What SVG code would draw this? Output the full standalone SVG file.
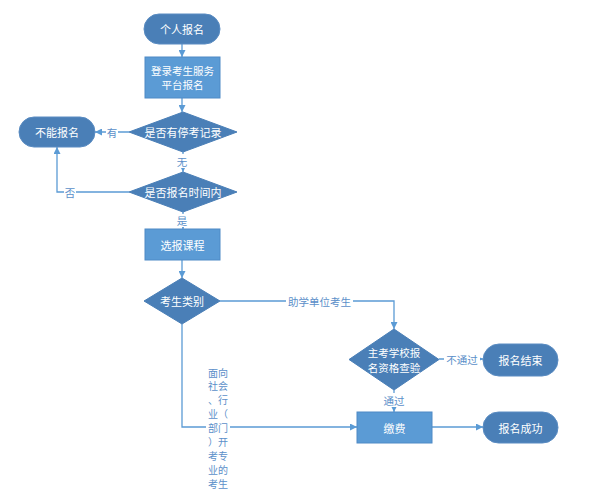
<svg xmlns="http://www.w3.org/2000/svg" width="607" height="498" viewBox="0 0 607 498">
<style>
.term{fill:#4a7fb7;stroke:#5a8cc2;stroke-width:1}
.proc{fill:#5b9bd5;stroke:#4f8ac6;stroke-width:1}
.dec{fill:#4a7fb7;stroke:#4a7fb7;stroke-width:1}
.nt{font-family:"Noto Sans CJK SC","Liberation Sans",sans-serif;font-size:11px;fill:#ffffff;text-anchor:middle;dominant-baseline:central}
.sm{font-size:10.5px}
.ln{fill:none;stroke:#5b9bd5;stroke-width:1.3}
.lb{font-family:"Noto Sans CJK SC","Liberation Sans",sans-serif;font-size:10.5px;fill:#5b8fc9;text-anchor:middle;dominant-baseline:central}
.vl{font-size:10px}
.bg{fill:#ffffff}
</style>
<defs>
<marker id="ah" viewBox="0 0 10 10" refX="10" refY="5" markerWidth="7" markerHeight="7" markerUnits="userSpaceOnUse" orient="auto">
<path d="M0,0 L10,5 L0,10 z" fill="#5b9bd5"/>
</marker>
</defs>
<g id="connectors">
<path class="ln" d="M182,44 V57" marker-end="url(#ah)"/>
<path class="ln" d="M182,98 V112" marker-end="url(#ah)"/>
<path class="ln" d="M129,132 H95" marker-end="url(#ah)"/>
<path class="ln" d="M183,152 V172" marker-end="url(#ah)"/>
<path class="ln" d="M129,192 H57 V147" marker-end="url(#ah)"/>
<path class="ln" d="M183,212 V229" marker-end="url(#ah)"/>
<path class="ln" d="M182,260 V278" marker-end="url(#ah)"/>
<path class="ln" d="M220,301 H394 V329" marker-end="url(#ah)"/>
<path class="ln" d="M182,324 V427 H357" marker-end="url(#ah)"/>
<path class="ln" d="M439,359 H483" marker-end="url(#ah)"/>
<path class="ln" d="M394,390 V412" marker-end="url(#ah)"/>
<path class="ln" d="M432,427 H483" marker-end="url(#ah)"/>
<rect class="bg" x="106" y="125" width="12" height="14"/>
<text class="lb" x="112" y="132">有</text>
<rect class="bg" x="176" y="154" width="13" height="14"/>
<text class="lb" x="182" y="161">无</text>
<rect class="bg" x="64" y="185" width="12" height="14"/>
<text class="lb" x="70" y="192">否</text>
<rect class="bg" x="177" y="214" width="11" height="13"/>
<text class="lb" x="182" y="220">是</text>
<rect class="bg" x="286" y="294" width="67" height="14"/>
<text class="lb" x="319.5" y="301">助学单位考生</text>
<rect class="bg" x="444" y="352" width="36" height="14"/>
<text class="lb" x="462" y="359">不通过</text>
<rect class="bg" x="383" y="393" width="23" height="14"/>
<text class="lb" x="394" y="400">通过</text>
<rect class="bg" x="206" y="365" width="24" height="126"/>
<g class="lb vl">
<text x="218" y="372">面向</text>
<text x="218" y="385.9">社会</text>
<text x="218" y="399.8">、行</text>
<text x="218" y="413.7">业（</text>
<text x="218" y="427.6">部门</text>
<text x="218" y="441.5">）开</text>
<text x="218" y="455.4">考专</text>
<text x="218" y="469.3">业的</text>
<text x="218" y="483.2">考生</text>
</g>
</g>
<g id="start">
<rect class="term" x="144" y="14" width="76" height="30" rx="15"/>
<text class="nt" x="182" y="29">个人报名</text>
</g>
<g id="login">
<rect class="proc" x="145" y="57" width="75" height="41"/>
<text class="nt sm" x="182.5" y="70.5">登录考生服务</text>
<text class="nt sm" x="182.5" y="84.5">平台报名</text>
</g>
<g id="check-record">
<polygon class="dec" points="183,112 237,132 183,152 129,132"/>
<text class="nt" x="183" y="132">是否有停考记录</text>
</g>
<g id="cannot">
<rect class="term" x="19" y="117" width="76" height="30" rx="15"/>
<text class="nt" x="57" y="132">不能报名</text>
</g>
<g id="check-time">
<polygon class="dec" points="183,172 237,192 183,212 129,192"/>
<text class="nt" x="183" y="192">是否报名时间内</text>
</g>
<g id="select">
<rect class="proc" x="145" y="229" width="75" height="31"/>
<text class="nt" x="182.5" y="244.5">选报课程</text>
</g>
<g id="category">
<polygon class="dec" points="182,278 220,301 182,324 144,301"/>
<text class="nt" x="182" y="301">考生类别</text>
</g>
<g id="qualify">
<polygon class="dec" points="394,329 439,359.5 394,390 349,359.5"/>
<text class="nt sm" x="394" y="352">主考学校报</text>
<text class="nt sm" x="394" y="367">名资格查验</text>
</g>
<g id="end-fail">
<rect class="term" x="483" y="344" width="75" height="32" rx="16"/>
<text class="nt" x="520.5" y="360">报名结束</text>
</g>
<g id="pay">
<rect class="proc" x="357" y="412" width="75" height="31"/>
<text class="nt" x="394.5" y="427.5">缴费</text>
</g>
<g id="success">
<rect class="term" x="483" y="412" width="75" height="31" rx="15.5"/>
<text class="nt" x="520.5" y="427.5">报名成功</text>
</g>
</svg>
